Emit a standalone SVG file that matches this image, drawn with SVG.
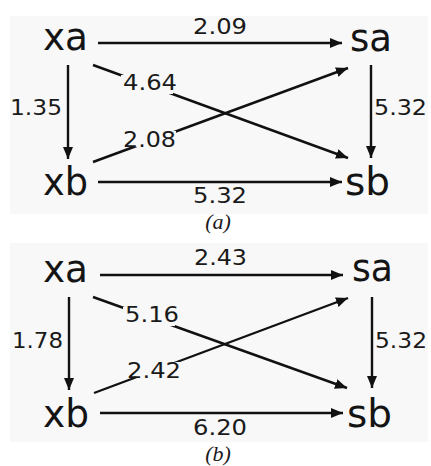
<svg xmlns="http://www.w3.org/2000/svg" width="431" height="466" viewBox="0 0 431 466">
<style>
.bg{fill:#f8f8f8}
.node{font-family:"DejaVu Sans",Verdana,sans-serif;font-size:39px;fill:#141414}
.lbl{font-family:"DejaVu Sans",Verdana,sans-serif;font-size:21.5px;fill:#1a1a1a}
.cap{font-family:"Liberation Serif","Times New Roman",serif;font-size:22px;font-style:italic;fill:#1a1a1a}
.edge{stroke:#111;stroke-width:2.4;fill:none;marker-end:url(#arr)}
.ko{fill:#f8f8f8}
</style>
<defs>
<marker id="arr" markerUnits="userSpaceOnUse" markerWidth="13" markerHeight="11" refX="12" refY="5" orient="auto">
<path d="M0,0 L12,5 L0,10 z" fill="#111"/>
</marker>
</defs>
<rect width="431" height="466" fill="#fff"/>
<!-- Panel (a) -->
<rect class="bg" x="10" y="16" width="418" height="198"/>
<g id="a-connectors">
<line class="edge" x1="98" y1="43" x2="342" y2="43"/>
<line class="edge" x1="68" y1="65" x2="68" y2="159"/>
<line class="edge" x1="371" y1="65" x2="371" y2="158"/>
<line class="edge" x1="98" y1="182" x2="342" y2="182"/>
<line class="edge" x1="93" y1="65" x2="348" y2="158"/>
<line class="edge" x1="93" y1="162" x2="348" y2="68"/>
</g>
<g id="a-labels">
<text class="lbl" x="193" y="34" textLength="54" lengthAdjust="spacingAndGlyphs">2.09</text>
<text class="lbl" x="10" y="115" textLength="52" lengthAdjust="spacingAndGlyphs">1.35</text>
<text class="lbl" x="374" y="115" textLength="53" lengthAdjust="spacingAndGlyphs">5.32</text>
<rect class="ko" x="121" y="75" width="52" height="19"/>
<text class="lbl" x="123" y="90" textLength="54" lengthAdjust="spacingAndGlyphs">4.64</text>
<rect class="ko" x="132" y="131" width="44" height="16"/>
<text class="lbl" x="123" y="147" textLength="53" lengthAdjust="spacingAndGlyphs">2.08</text>
<text class="lbl" x="193" y="203" textLength="54" lengthAdjust="spacingAndGlyphs">5.32</text>
</g>
<g id="a-xa"><text class="node" x="43" y="50" textLength="45" lengthAdjust="spacingAndGlyphs">xa</text></g>
<g id="a-sa"><text class="node" x="350" y="51" textLength="42" lengthAdjust="spacingAndGlyphs">sa</text></g>
<g id="a-xb"><text class="node" x="43" y="195" textLength="45" lengthAdjust="spacingAndGlyphs">xb</text></g>
<g id="a-sb"><text class="node" x="345" y="195" textLength="45" lengthAdjust="spacingAndGlyphs">sb</text></g>
<text class="cap" x="218" y="229" text-anchor="middle">(a)</text>
<!-- Panel (b) -->
<rect class="bg" x="10" y="243" width="418" height="199"/>
<g id="b-connectors">
<line class="edge" x1="100" y1="275" x2="343" y2="275"/>
<line class="edge" x1="69" y1="297" x2="69" y2="390"/>
<line class="edge" x1="372" y1="297" x2="372" y2="388"/>
<line class="edge" x1="100" y1="413" x2="343" y2="413"/>
<line class="edge" x1="93" y1="297" x2="347" y2="388"/>
<line class="edge" x1="94" y1="393" x2="348" y2="298"/>
</g>
<g id="b-labels">
<text class="lbl" x="194" y="265" textLength="53" lengthAdjust="spacingAndGlyphs">2.43</text>
<text class="lbl" x="12" y="348" textLength="51" lengthAdjust="spacingAndGlyphs">1.78</text>
<text class="lbl" x="375" y="348" textLength="52" lengthAdjust="spacingAndGlyphs">5.32</text>
<rect class="ko" x="123" y="307" width="52" height="19"/>
<text class="lbl" x="125" y="322" textLength="54" lengthAdjust="spacingAndGlyphs">5.16</text>
<rect class="ko" x="136" y="362" width="44" height="16"/>
<text class="lbl" x="127" y="378" textLength="54" lengthAdjust="spacingAndGlyphs">2.42</text>
<text class="lbl" x="193" y="435" textLength="54" lengthAdjust="spacingAndGlyphs">6.20</text>
</g>
<g id="b-xa"><text class="node" x="43" y="282" textLength="45" lengthAdjust="spacingAndGlyphs">xa</text></g>
<g id="b-sa"><text class="node" x="352" y="281" textLength="41" lengthAdjust="spacingAndGlyphs">sa</text></g>
<g id="b-xb"><text class="node" x="43" y="427" textLength="46" lengthAdjust="spacingAndGlyphs">xb</text></g>
<g id="b-sb"><text class="node" x="347" y="427" textLength="45" lengthAdjust="spacingAndGlyphs">sb</text></g>
<text class="cap" x="218" y="461" text-anchor="middle">(b)</text>
</svg>
